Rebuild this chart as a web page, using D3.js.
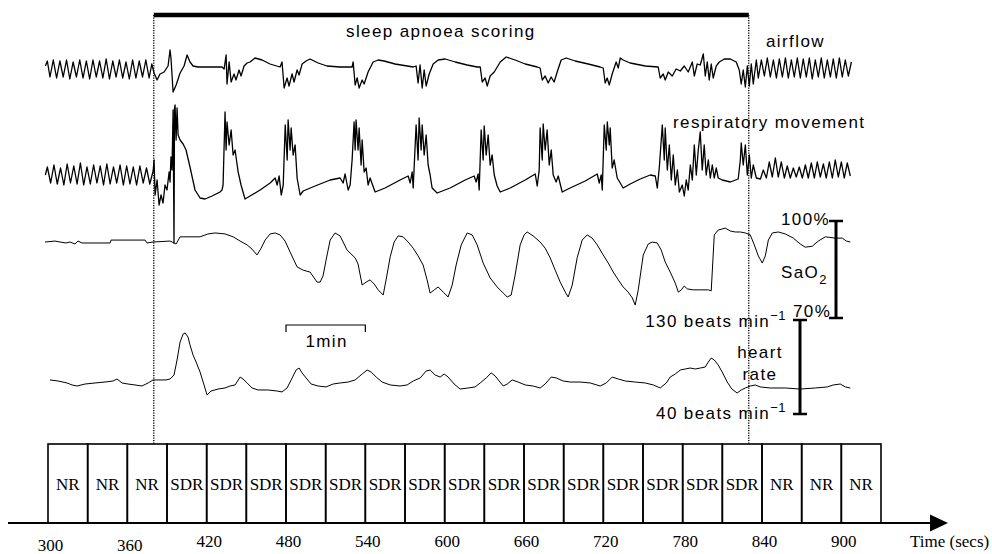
<!DOCTYPE html>
<html><head><meta charset="utf-8">
<script src="https://cdn.jsdelivr.net/npm/d3@7"></script>
<style>
body{margin:0;background:#fff}
svg{display:block}
.sans{font-family:"Liberation Sans",Arial,Helvetica,sans-serif;font-size:17px;letter-spacing:1.4px;fill:#000}
.serif{font-family:"Liberation Serif","Times New Roman",serif;font-size:17px;fill:#000}
</style>
</head><body>
<svg id="c" width="992" height="554"></svg>
<script>
// ---------- data ----------
const epochLabels = ["NR","NR","NR","SDR","SDR","SDR","SDR","SDR","SDR","SDR","SDR","SDR","SDR","SDR","SDR","SDR","SDR","SDR","NR","NR","NR"];
const epochStart = 300;      // s
const epochLength = 30;      // s
const tickValues = [300,360,420,480,540,600,660,720,780,840,900];
const scoringWindow = [380, 830];   // s
const scaleBarMinute = [480, 540];  // s
const satRange = [70, 100];         // %
const hrRange = [40, 130];          // beats/min

// airflow [time s, arbitrary units]
const airflow = [[298,2],[299.5,7],[301.5,-9],[304,8],[306.5,-10],[309,7],[311.5,-9],[314,8],[316.5,-11],[319,6],[321.5,-9],[324,8],[326.5,-10],[329,7],[331.5,-11],[334,8],[336.5,-9],[339,7],[341.5,-10],[344,9],[346.5,-11],[349,7],[351.5,-9],[354,8],[356.5,-10],[359,6],[361.5,-11],[364,8],[366.5,-10],[369,7],[371.5,-9],[374,8],[376.5,-10],[378.5,4],[380.2,-5],[382.5,-12],[384.7,-6],[387.8,-4],[390.8,2],[392.3,18],[393,10],[394.6,-24],[396.9,-17],[399.9,-5],[402.9,2],[405.2,13],[407.4,6],[409.7,2],[413.5,1],[431.6,1],[433.2,-1],[434.7,13],[435.4,-16],[437,6],[438.5,-14],[440.7,-6],[442.2,-12],[444.5,-2],[446,-8],[448.3,2],[450.6,5],[452.8,6],[456.6,10],[461.9,8],[467.9,4],[475.5,1],[477,6],[478.6,-20],[480.8,-10],[482.3,-18],[484.6,-6],[486.1,-14],[488.4,-2],[489.9,-7],[492.2,4],[495.2,7],[498.2,9],[504.3,5],[511,2],[520.9,1],[530,1],[530.8,6],[532.3,-17],[533.8,-10],[535.3,-20],[537.6,-12],[539.1,-16],[542.1,-4],[545.9,6],[549.7,8],[554.2,7],[562.5,4],[576.2,1],[578.4,2],[579.9,-15],[581.4,3],[583,-20],[584.5,-2],[586,-18],[588.3,-6],[591.3,4],[595.1,8],[600.4,9],[608,6],[617,3],[624.6,1],[626.9,1],[628.4,-14],[630.6,-10],[632.2,-18],[634.4,-8],[637.5,-4],[642,6],[646.5,11],[653.3,8],[660.9,4],[670,1],[672.2,0],[673.8,-12],[676,-8],[678.3,-15],[680.5,-9],[682.8,-14],[685.1,-4],[688.1,8],[691.9,10],[698.7,7],[708.6,4],[717.6,1],[719.9,0],[721.4,-15],[722.9,-10],[724.5,-17],[726.7,-6],[729.7,6],[731.3,0],[732.8,10],[735,8],[740.3,5],[751.7,2],[761.5,1],[763,-10],[765.3,-6],[766.8,-12],[769.1,-4],[772.1,-8],[775.1,-1],[778.2,-3],[781.2,2],[784.2,-4],[787.3,6],[788.8,-8],[791,4],[793.3,3],[795.6,14],[797.1,-8],[798.6,6],[800.1,-12],[801.6,4],[803.1,-10],[805.4,2],[807.7,6],[811.5,9],[816,9],[820.5,6],[822.8,-2],[824.3,-16],[825.8,-2],[827.4,-19],[828.9,2],[830.4,-18],[831.9,4],[833.4,-16],[835.7,8],[837.2,-10],[839.5,8],[841.8,-8],[844,10],[846.3,-9],[848.6,8],[850.9,-10],[853.1,9],[855.4,-9],[857.7,10],[859.9,-10],[862.2,8],[864.4,-9],[866.7,10],[869,-10],[871.2,9],[873.5,-9],[875.8,10],[878,-11],[880.3,8],[882.6,-9],[884.8,10],[887.1,-10],[889.4,8],[891.7,-9],[893.9,9],[896.2,-10],[898.5,10],[900.7,-9],[903,8],[905.3,-8],[907.6,6]];

// respiratory movement [time s, arbitrary units]
const respiratory = [[298,0],[299.5,8],[302,-8],[304.5,10],[307,-9],[309.5,7],[312,-10],[314.5,11],[317,-8],[319.5,9],[322,-9],[324.5,12],[327,-10],[329.5,8],[332,-9],[334.5,10],[337,-8],[339.5,9],[342,-10],[344.5,11],[347,-9],[349.5,8],[352,-8],[354.5,10],[357,-10],[359.5,9],[362,-9],[364.5,8],[367,-10],[369.5,9],[372,-8],[374.5,7],[377,-9],[379.5,4],[380.2,15],[381,-20],[382.5,-5],[384,-30],[385.5,-20],[387,-28],[388.5,-10],[390,-15],[391.6,3],[392.3,-7],[393,18],[393.8,5],[394.6,65],[395.3,-68],[395.7,67],[396.1,70],[396.9,35],[397.6,67],[398.4,40],[399.9,35],[402.2,31],[404.4,25],[407.4,8],[411.2,-15],[415,-23],[418.8,-24],[424.1,-21],[430.1,-17],[431.6,-15],[432.4,-10],[433.9,63],[434.7,25],[435.4,53],[437,30],[438.5,45],[440,20],[441.5,25],[443.8,3],[446,-10],[449,-24],[452.8,-21],[460.4,-15],[468,-8],[471.8,-3],[473.3,-10],[474.8,-1],[476.4,-20],[477.9,-10],[479.4,50],[480.9,15],[481.6,55],[483.1,25],[483.9,47],[485.4,20],[486.9,30],[488.4,-3],[490.7,-20],[493,-16],[502,-11],[513.4,-5],[520.9,-3],[523.2,-8],[524.7,1],[527,-15],[528.5,-10],[530,15],[531.5,53],[532.3,25],[533,55],[534.5,25],[535.3,47],[536.8,10],[537.6,35],[539.1,3],[540.6,7],[542.1,-10],[543.6,-3],[547.4,-17],[554.9,-13],[566.3,-5],[572.4,-1],[573.9,-8],[575.4,3],[576.2,-13],[578.4,50],[579.9,15],[580.7,57],[582.2,25],[583,50],[584.5,20],[586,40],[587.5,10],[589,0],[590.5,-13],[594.3,-18],[604.1,-13],[615.5,-5],[622.3,-1],[623.8,-7],[625.3,1],[626.1,-15],[627.6,45],[629.1,15],[629.9,49],[631.4,20],[632.9,40],[634.4,10],[635.9,20],[637.5,0],[639.7,-11],[642,-17],[649.6,-13],[660.9,-5],[668.5,1],[670,-11],[671.5,5],[672.2,47],[673.8,15],[674.5,51],[676,25],[677.5,45],[679.1,10],[680.6,25],[682.1,0],[684.3,-7],[685.9,-1],[688.9,-17],[694.9,-13],[706.3,-6],[715.4,1],[716.9,-8],[718.4,0],[719.2,-15],[720.7,50],[722.2,25],[723,53],[724.5,30],[725.2,47],[726.7,7],[728.2,15],[730.5,-3],[732.8,-8],[735,-13],[740.3,-9],[747.9,-4],[755.5,0],[759.3,-1],[760.8,-13],[762.3,7],[763.8,35],[764.6,50],[766.1,15],[766.8,47],[768.4,5],[769.9,30],[771.4,-5],[772.9,20],[774.4,-10],[776,5],[777.5,-17],[779.7,-10],[781.2,-21],[782.7,-5],[784.2,-15],[785.8,10],[787.3,-5],[788.8,30],[790.3,0],[791.8,25],[793.3,43],[794.8,5],[796.3,30],[797.8,0],[799.4,15],[800.9,-3],[802.4,10],[803.9,-3],[805.4,7],[806.9,-3],[809.9,-5],[816,-7],[822,-4],[823.6,15],[824.3,32],[825.8,10],[827.4,30],[828.9,0],[830.4,20],[831.9,-3],[833.4,10],[835.7,-3],[838.8,-4],[841,5],[843.3,-3],[845.5,13],[847.8,-2],[850.1,17],[852.3,-2],[854.6,13],[856.9,-3],[859.1,9],[861.4,-3],[863.7,7],[865.9,-2],[868.2,8],[870.5,-3],[872.8,10],[875,-3],[877.3,12],[879.6,-3],[881.8,13],[884.1,-2],[886.4,11],[888.6,-3],[890.9,13],[893.2,-3],[895.4,15],[897.7,-2],[900,13],[902.2,-3],[904.5,12],[906.8,-1]];

// SaO2 [time s, %]
const saO2 = [[297.7,93.5],[305.3,93.8],[309.1,93.5],[313.6,93.2],[316.6,93.5],[320.4,92.9],[322.7,93.8],[325.7,93.2],[347,93.2],[347.7,94.1],[373.4,94.1],[374.9,93.2],[379.4,93.5],[392.3,93.8],[396.9,92.9],[399.9,95.1],[415,95.1],[421,96.0],[426.4,96.3],[433.9,96.0],[440,95.1],[445.3,93.8],[450.6,92.6],[454.3,91.3],[458.1,89.5],[461.2,91.6],[464.2,94.1],[468,96.0],[471.8,96.3],[475.5,95.7],[479.3,93.8],[483.1,90.4],[488.4,85.8],[493,84.8],[498.2,84.2],[503.5,81.1],[505.8,81.1],[508,83.0],[510.3,87.9],[513.4,94.1],[517.1,96.3],[520.9,95.4],[526.2,91.0],[532.3,88.6],[534.5,86.7],[537.6,80.2],[540.6,81.1],[543.6,81.8],[546.7,80.5],[549.7,78.7],[553.5,77.1],[555.7,81.8],[558.8,88.9],[561.8,93.5],[564.8,95.4],[568.6,95.1],[572.4,93.5],[576.2,91.6],[579.9,89.2],[583.7,86.4],[586.7,81.8],[589,77.7],[592.1,78.7],[595.1,79.6],[598.9,78.0],[602.6,76.5],[605.7,80.2],[608.7,86.4],[612.5,92.6],[617,96.3],[620.8,95.7],[624.6,92.6],[629.1,87.0],[634.4,82.4],[639.7,79.6],[644.3,77.7],[647.3,76.5],[650.3,77.1],[653.3,83.3],[657.1,92.6],[660.1,95.7],[662.4,96.6],[666.9,95.4],[672.2,93.5],[676,91.6],[679.8,88.6],[683.6,84.8],[687.4,81.1],[691.2,78.0],[693.4,76.5],[696.5,80.2],[700.2,88.6],[704,94.1],[707.8,95.7],[711.6,94.7],[715.4,92.6],[719.9,89.5],[723.7,87.0],[727.5,84.2],[731.3,81.8],[735,79.6],[738.8,78.0],[741.9,76.2],[744.1,74.0],[746.4,78.7],[750.2,89.5],[754,92.9],[757,93.5],[760.8,93.2],[763.8,91.0],[766.8,87.3],[770.6,84.2],[774.4,80.8],[776.7,78.0],[779,78.7],[781.2,79.9],[783.5,79.0],[788,78.7],[793.3,78.7],[799.4,78.7],[801.6,78.4],[803.9,95.7],[806.9,97.2],[812.2,97.8],[816,96.9],[819.8,96.6],[823.6,96.6],[827.4,96.3],[831.1,95.7],[834.2,92.6],[837.2,89.2],[840.2,87.0],[842.5,89.2],[844.8,94.1],[847.8,96.3],[852.3,96.6],[857.6,96.0],[863.7,94.7],[868.9,92.9],[872.7,91.9],[878,92.2],[882.6,93.8],[887.9,95.1],[895.5,94.7],[900.7,94.7],[903.8,93.8],[906.8,93.5]];

// heart rate [time s, beats/min]
const heartRate = [[301.5,72.6],[307.6,71.6],[314.4,69.7],[318.2,67.8],[322,66.8],[328,68.7],[335.6,69.7],[343.1,70.6],[349.2,71.6],[352.2,73.5],[356,69.7],[360.5,68.7],[365.8,67.8],[371,66.8],[375.7,69.7],[379.5,72.6],[389.3,72.6],[392.3,73.5],[395.3,77.3],[397.6,91.7],[399.9,108.9],[402.2,116.6],[403.7,117.6],[405.9,113.7],[407.4,106.1],[409.7,96.5],[412,89.8],[415,80.2],[418,67.8],[420.3,58.2],[423.3,62.0],[428.6,63.9],[433.9,64.9],[437.7,66.8],[441.5,67.8],[445.3,75.4],[447.5,73.5],[450.6,69.7],[454.3,64.9],[458.9,63.0],[466.5,63.0],[473.3,62.0],[477,61.1],[480.8,64.9],[483.9,72.6],[487.6,82.1],[489.9,84.0],[492.2,79.3],[495.2,74.5],[499,68.7],[504.3,66.8],[510.3,65.9],[515.6,68.7],[520.9,69.7],[527,70.6],[532.3,72.6],[537.6,78.3],[541.4,82.1],[544.4,80.2],[548.2,75.4],[552.7,70.6],[558.8,67.8],[566.3,66.8],[571.6,67.8],[576.2,71.6],[581.5,74.5],[586,81.2],[589,82.1],[592.8,77.3],[596.6,75.4],[599.6,78.3],[602.6,75.4],[607.2,68.7],[611.7,63.9],[617.8,64.9],[623,65.9],[626.9,69.7],[631.4,74.5],[635.2,79.3],[638.2,76.4],[641.2,71.6],[644.3,66.8],[647.3,68.7],[651.1,72.6],[655.6,70.6],[660.9,67.8],[666.9,66.8],[672.2,64.9],[676,68.7],[680.6,75.4],[684.4,74.5],[689.6,71.6],[695,70.6],[702.5,70.6],[710.1,69.7],[717.6,66.8],[722.2,69.7],[726.7,75.4],[731.3,73.5],[736.6,71.6],[744.1,70.6],[751.7,69.7],[757.8,67.8],[763,64.9],[767.6,69.7],[770.6,75.4],[774.4,78.3],[778.2,82.1],[782,83.1],[785.7,84.0],[789.5,83.1],[793.3,84.0],[797.1,85.0],[799.4,89.8],[801.6,93.6],[803.9,91.7],[806.9,86.9],[809.9,80.2],[813.7,70.6],[817.2,63.9],[821.2,60.1],[824.3,63.0],[827.4,64.9],[831.1,66.8],[834.9,67.8],[838.7,65.9],[846.3,64.9],[857.6,64.9],[868.9,63.9],[880.3,64.9],[889.4,65.9],[893.9,67.8],[899.2,68.7],[903,65.9],[906.8,64.9]];

// ---------- scales ----------
const svg = d3.select("#c");
const x = d3.scaleLinear().domain([epochStart, epochStart + epochLabels.length * epochLength]).range([48, 881]);
const yAir = d3.scaleLinear().domain([-25, 25]).range([93, 43]);
const yResp = d3.scaleLinear().domain([-30, 70]).range([205, 105]);
const ySat = d3.scaleLinear().domain(satRange).range([318, 221]);
const yHr = d3.scaleLinear().domain(hrRange).range([414, 320]);

// ---------- traces ----------
function trace(data, y, w) {
  svg.append("path")
    .datum(data)
    .attr("fill", "none")
    .attr("stroke", "#000")
    .attr("stroke-width", w)
    .attr("stroke-linejoin", "round")
    .attr("d", d3.line().x(d => x(d[0])).y(d => y(d[1])));
}
trace(airflow, yAir, 1.3);
trace(respiratory, yResp, 1.3);
trace(saO2, ySat, 1);
trace(heartRate, yHr, 1);

// ---------- scoring window ----------
const boxTop = 444, axisY = 523;
svg.selectAll(".win").data(scoringWindow).enter().append("line")
  .attr("x1", d => x(d)).attr("x2", d => x(d))
  .attr("y1", 15).attr("y2", boxTop)
  .attr("stroke", "#000").attr("stroke-width", 1.3)
  .attr("stroke-dasharray", "1.2,1.3");
svg.append("line")
  .attr("x1", x(scoringWindow[0])).attr("x2", x(scoringWindow[1]))
  .attr("y1", 15).attr("y2", 15)
  .attr("stroke", "#000").attr("stroke-width", 4.5);
svg.append("text").attr("class", "sans").attr("x", 346).attr("y", 37).text("sleep apnoea scoring");

// ---------- trace labels ----------
svg.append("text").attr("class", "sans").attr("x", 766).attr("y", 47).text("airflow");
svg.append("text").attr("class", "sans").attr("x", 673).attr("y", 128).text("respiratory movement");

// SaO2 range bar
const satBarX = 836;
svg.append("line").attr("x1", satBarX).attr("x2", satBarX)
  .attr("y1", ySat(satRange[1])).attr("y2", ySat(satRange[0]))
  .attr("stroke", "#000").attr("stroke-width", 3);
satRange.forEach(v => svg.append("line")
  .attr("x1", satBarX - 7).attr("x2", satBarX + 7)
  .attr("y1", ySat(v)).attr("y2", ySat(v))
  .attr("stroke", "#000").attr("stroke-width", 2.5));
svg.append("text").attr("class", "sans").attr("x", 781).attr("y", ySat(satRange[1]) + 4).text(satRange[1] + "%");
svg.append("text").attr("class", "sans").attr("x", 793).attr("y", ySat(satRange[0]) - 1).text(satRange[0] + "%");
const sat = svg.append("text").attr("class", "sans").attr("x", 781).attr("y", 278);
sat.append("tspan").text("SaO");
sat.append("tspan").attr("dy", 6).style("font-size", "13px").text("2");

// heart-rate range bar
const hrBarX = 800;
svg.append("line").attr("x1", hrBarX).attr("x2", hrBarX)
  .attr("y1", yHr(hrRange[1])).attr("y2", yHr(hrRange[0]))
  .attr("stroke", "#000").attr("stroke-width", 3);
hrRange.forEach(v => svg.append("line")
  .attr("x1", hrBarX - 7).attr("x2", hrBarX + 7)
  .attr("y1", yHr(v)).attr("y2", yHr(v))
  .attr("stroke", "#000").attr("stroke-width", 2.5));
[[hrRange[1], yHr(hrRange[1]) + 7], [hrRange[0], yHr(hrRange[0]) + 5]].forEach(([v, yy]) => {
  const t = svg.append("text").attr("class", "sans").attr("x", 786).attr("y", yy).attr("text-anchor", "end");
  t.append("tspan").text(v + " beats min");
  t.append("tspan").attr("dy", -7).style("font-size", "13px").style("letter-spacing", "0.5px").text("\u22121");
});
svg.append("text").attr("class", "sans").attr("x", 760).attr("y", 358).attr("text-anchor", "middle").text("heart");
svg.append("text").attr("class", "sans").attr("x", 760).attr("y", 380).attr("text-anchor", "middle").text("rate");

// 1 min scale bar
svg.append("path")
  .attr("d", `M${x(scaleBarMinute[0])},332V325H${x(scaleBarMinute[1])}V332`)
  .attr("fill", "none").attr("stroke", "#000").attr("stroke-width", 1.2);
svg.append("text").attr("class", "sans").attr("x", (x(scaleBarMinute[0]) + x(scaleBarMinute[1])) / 2 + 1)
  .attr("y", 347).attr("text-anchor", "middle").text("1min");

// ---------- epoch boxes ----------
const bw = x(epochStart + epochLength) - x(epochStart);
const boxes = svg.selectAll(".ep").data(epochLabels).enter().append("g");
boxes.append("rect")
  .attr("x", (d, i) => x(epochStart + i * epochLength))
  .attr("y", boxTop).attr("width", bw).attr("height", axisY - boxTop)
  .attr("fill", "none").attr("stroke", "#000").attr("stroke-width", 1.6);
boxes.append("text").attr("class", "serif")
  .attr("x", (d, i) => x(epochStart + i * epochLength) + bw / 2)
  .attr("y", 490).attr("text-anchor", "middle").text(d => d);

// ---------- time axis ----------
svg.append("line").attr("x1", 8).attr("x2", 932).attr("y1", axisY).attr("y2", axisY)
  .attr("stroke", "#000").attr("stroke-width", 2);
svg.append("path").attr("d", `M930,${axisY - 8.5}L948,${axisY}L930,${axisY + 8.5}Z`).attr("fill", "#000");
const ax = svg.append("g").attr("transform", `translate(0,${axisY})`)
  .call(d3.axisBottom(x).tickValues(tickValues).tickSize(0).tickFormat(d3.format("d")));
ax.select(".domain").remove();
ax.selectAll("text")
  .attr("class", "serif")
  .attr("font-family", null).attr("font-size", null)
  .attr("y", d => d < 400 ? 16 : 12)
  .attr("x", 2);
svg.append("text").attr("class", "serif").attr("x", 910).attr("y", 547).text("Time (secs)");
</script>
</body></html>
